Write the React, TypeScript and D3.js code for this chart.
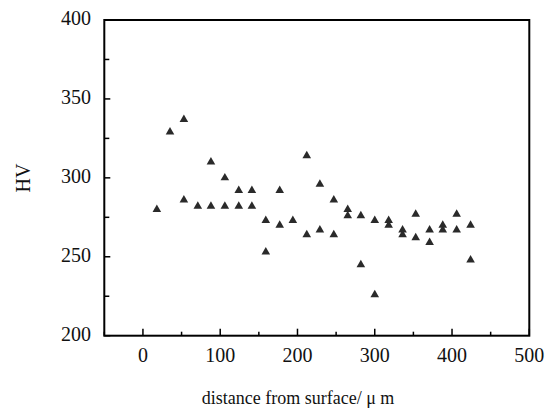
import React from "react";
import * as d3 from "d3";

const distances = [18, 35, 53, 53, 71, 88, 88, 106, 106, 124, 124, 141, 141, 159, 159, 177, 177, 194, 212, 212, 229, 229, 247, 247, 265, 265, 282, 282, 300, 300, 318, 318, 336, 336, 353, 353, 371, 371, 388, 388, 406, 406, 424, 424];
const hardness = [280, 329, 337, 286, 282, 282, 310, 282, 300, 292, 282, 292, 282, 273, 253, 292, 270, 273, 314, 264, 296, 267, 286, 264, 280, 276, 276, 245, 273, 226, 273, 270, 267, 264, 277, 262, 267, 259, 270, 267, 277, 267, 270, 248];
const xTicks = [0, 100, 200, 300, 400, 500];
const xMinor = [-50, 50, 150, 250, 350, 450];
const yTicks = [200, 250, 300, 350, 400];
const yMinor = [225, 275, 325, 375];

const W = 557, H = 414;
const L = 104.3, R = 529.3, T = 20, B = 335.7;

export default function App() {
  const x = d3.scaleLinear().domain([-50, 500]).range([L, R]);
  const y = d3.scaleLinear().domain([200, 400]).range([B, T]);
  const tri = d3.symbol().type(d3.symbolTriangle).size(32)();
  const font = "Liberation Serif, Times New Roman, Times, DejaVu Serif, serif";
  return (
    <svg width={W} height={H} style={{ position: "absolute", left: 0, top: 0, background: "#fff", fontFamily: font }}>
      <rect x={0} y={0} width={W} height={H} fill="#fff" />
      {xTicks.map((t) => (
        <g key={"xt" + t}>
          <line x1={x(t)} x2={x(t)} y1={B} y2={B - 7} stroke="#000" strokeWidth={1.5} />
          <text x={x(t)} y={362} textAnchor="middle" fontSize={20} fill="#111" style={{ fontFamily: font }}>{t}</text>
        </g>
      ))}
      {xMinor.map((t) => (
        <line key={"xm" + t} x1={x(t)} x2={x(t)} y1={B} y2={B - 4} stroke="#000" strokeWidth={1.5} />
      ))}
      {yTicks.map((t) => (
        <g key={"yt" + t}>
          <line x1={L} x2={L + 6} y1={y(t)} y2={y(t)} stroke="#000" strokeWidth={1.5} />
          <text x={91} y={y(t) + 5} textAnchor="end" fontSize={20} fill="#111" style={{ fontFamily: font }}>{t}</text>
        </g>
      ))}
      {yMinor.map((t) => (
        <line key={"ym" + t} x1={L} x2={L + 5} y1={y(t)} y2={y(t)} stroke="#000" strokeWidth={1.5} />
      ))}
      <rect x={L} y={T} width={R - L} height={B - T} fill="none" stroke="#000" strokeWidth={2} />
      {distances.map((d, i) => (
        <path key={i} d={tri as string} transform={`translate(${x(d)},${y(hardness[i])})`} fill="#2a2a2a" />
      ))}
      <text transform={`translate(30,178) rotate(-90)`} textAnchor="middle" fontSize={20} fill="#111" style={{ fontFamily: font }}>HV</text>
      <text x={298} y={404} textAnchor="middle" fontSize={18} fill="#111" style={{ fontFamily: font }}>distance from surface/ μ m</text>
    </svg>
  );
}
